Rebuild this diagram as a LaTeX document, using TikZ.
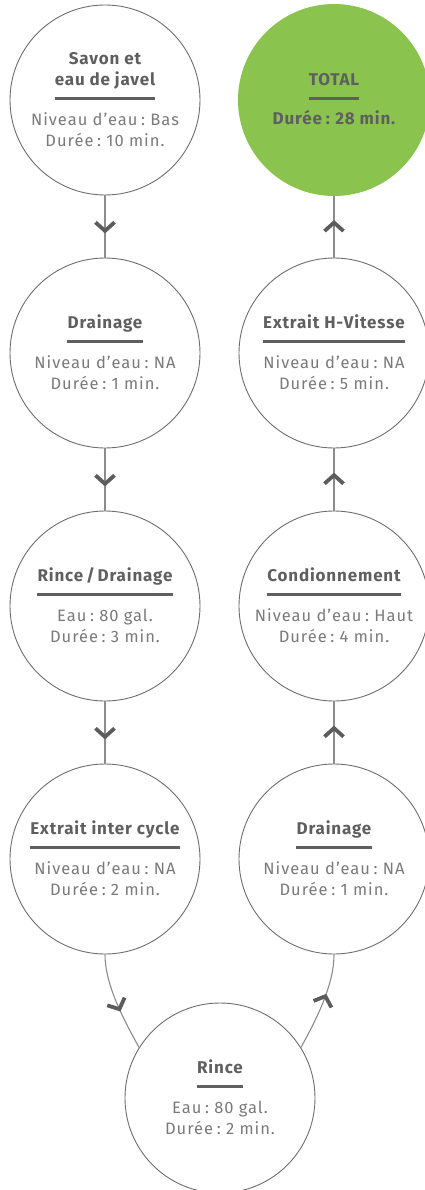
\documentclass[tikz,border=0pt]{standalone}
\usepackage{fontspec}
\setmainfont{Fira Sans}
\usetikzlibrary{decorations.markings}
\definecolor{ttlC}{HTML}{5F5F5F}
\definecolor{bodyC}{HTML}{7A7A7A}
\definecolor{circC}{HTML}{6E6E6E}
\definecolor{connC}{HTML}{8C8C8C}
\definecolor{chevC}{HTML}{5C5C5C}
\definecolor{greenC}{HTML}{8BC34F}
\newcommand{\cln}{\hspace{0.22em}:\hspace{0.32em}}
\tikzset{
  stepcircle/.style={circle, draw=circC, line width=0.9pt, minimum size=190pt, inner sep=0pt},
  totalcircle/.style={circle, fill=greenC, minimum size=192pt, inner sep=0pt},
  ttl/.style={anchor=base, inner sep=0pt, text=ttlC, font=\fontsize{17}{20}\selectfont\bfseries\addfontfeature{LetterSpace=5}},
  body/.style={anchor=base, inner sep=0pt, text=bodyC, font=\fontsize{16.5}{19}\selectfont\addfontfeature{LetterSpace=6}},
  ttlrule/.style={draw=ttlC, line width=3pt},
  chev/.style={draw=chevC, line width=3.8pt, line join=miter},
  conn/.style={draw=connC, line width=1.1pt, postaction={decorate},
    decoration={markings, mark=at position 0.57 with {\draw[chev] (-8.5,-9.5) -- (0,0) -- (-8.5,9.5);}}},
}
\newcommand{\mkstep}[6]{%
  \node[stepcircle] (#1) at (#2,#3) {};
  \node[ttl] (#1t) at (#2,#3-25) {#4};
  \draw[ttlrule] ([yshift=-13pt]#1t.base west) -- ([yshift=-13pt]#1t.base east);
  \node[body] (#1a) at (#2,#3+15) {#5};
  \node[body] (#1b) at (#2,#3+36) {#6};
}
\begin{document}
\begin{tikzpicture}[x=1pt, y=-1pt]
\useasboundingbox (0,0) rectangle (425,1190);
% left column, first step
\node[stepcircle] (L1) at (105,100) {};
\node[ttl] (L1t) at (105,65) {Savon et};
\node[ttl] (L1u) at (105,86) {eau de javel};
\draw[ttlrule] ([yshift=-13pt]L1u.base west) -- ([yshift=-13pt]L1u.base east);
\node[body] (L1a) at (105,126) {Niveau d’eau\cln Bas};
\node[body] (L1b) at (105,147) {Durée\cln 10 min.};
\mkstep{L2}{105}{353}{Drainage}{Niveau d’eau\cln NA}{Durée\cln 1 min.}
\mkstep{L3}{105}{606}{Rince\,/\,Drainage}{Eau\cln 80 gal.}{Durée\cln 3 min.}
\mkstep{L4}{105}{859}{Extrait inter cycle}{Niveau d’eau\cln NA}{Durée\cln 2 min.}
\mkstep{RC}{220}{1098}{Rince}{Eau\cln 80 gal.}{Durée\cln 2 min.}
\mkstep{R4}{334}{859}{Drainage}{Niveau d’eau\cln NA}{Durée\cln 1 min.}
\mkstep{R3}{334}{606}{Condionnement}{Niveau d’eau\cln Haut}{Durée\cln 4 min.}
\mkstep{R2}{334}{353}{Extrait H-Vitesse}{Niveau d’eau\cln NA}{Durée\cln 5 min.}
% total
\node[totalcircle] (R1) at (334,100) {};
\node[ttl] (R1t) at (334,86) {TOTAL};
\draw[ttlrule] ([yshift=-13pt]R1t.base west) -- ([yshift=-13pt]R1t.base east);
\node[ttl] (R1a) at (334,125) {Durée\cln 28 min.};
% connectors
\draw[conn] (L1) -- (L2);
\draw[conn] (L2) -- (L3);
\draw[conn] (L3) -- (L4);
\draw[conn] (L4.south) .. controls +(0,30) and +(-16,-29) .. (RC.148);
\draw[conn] (RC.32) .. controls +(16,-29) and +(0,30) .. (R4.south);
\draw[conn] (R4) -- (R3);
\draw[conn] (R3) -- (R2);
\draw[conn] (R2) -- (R1);
\end{tikzpicture}
\end{document}
